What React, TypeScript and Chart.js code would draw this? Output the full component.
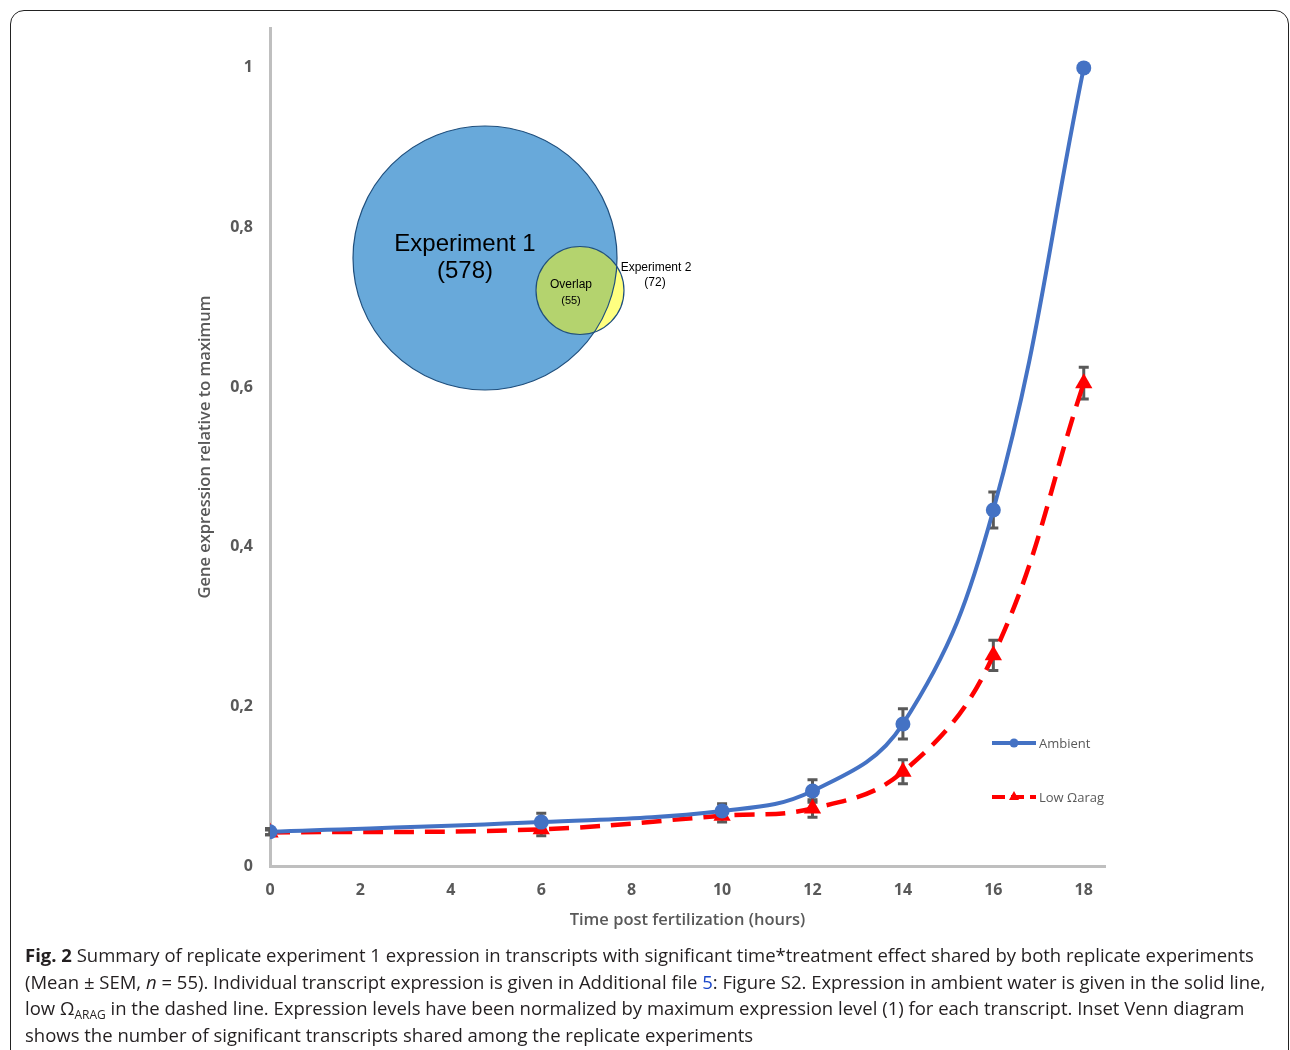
import React, { useEffect, useRef } from "react";
import { Chart, registerables } from "chart.js";

Chart.register(...registerables);

// ---- data ----
const hours = [0, 6, 10, 12, 14, 16, 18];
const ambient = [0.043, 0.055, 0.069, 0.094, 0.178, 0.446, 1.0];
const ambientSem = [0.004, 0.011, 0.009, 0.014, 0.019, 0.0225, 0];
const lowArag = [0.042, 0.046, 0.063, 0.072, 0.118, 0.264, 0.605];
const lowAragSem = [0.003, 0.008, 0.008, 0.011, 0.015, 0.019, 0.02];
const seriesNames = ["Ambient", "Low \u03A9arag"];
const xTicks = [0, 2, 4, 6, 8, 10, 12, 14, 16, 18];
const yTicks = [0, 0.2, 0.4, 0.6, 0.8, 1];
const vennLabels = ["Experiment 1", "Overlap", "Experiment 2"];
const vennCounts = [578, 55, 72];

// ---- layout / style (not data) ----
const X_MAX = 18.47;
const Y_MAX = 1.05;
const vennLayout = {
  big: { x: 4.756, y: 0.7618, r: 2.92 },
  small: { x: 6.857, y: 0.7211, r: 0.973 },
};
const BLUE = "#4472c4";
const RED = "#ff0000";
const GRAY = "#595959";
const AXIS = "#bfbfbf";

const errorBarPlugin = {
  id: "errorBars",
  beforeDatasetsDraw(chart: any) {
    const { ctx, scales } = chart;
    const sems = [ambientSem, lowAragSem];
    const vals = [ambient, lowArag];
    ctx.save();
    ctx.strokeStyle = GRAY;
    ctx.lineWidth = 3;
    for (let d = 0; d < 2; d++) {
      for (let i = 0; i < hours.length; i++) {
        const e = sems[d][i];
        if (!e) continue;
        const px = scales.x.getPixelForValue(hours[i]);
        const top = scales.y.getPixelForValue(vals[d][i] + e);
        const bot = scales.y.getPixelForValue(vals[d][i] - e);
        ctx.beginPath();
        ctx.moveTo(px, top);
        ctx.lineTo(px, bot);
        ctx.moveTo(px - 5, top);
        ctx.lineTo(px + 5, top);
        ctx.moveTo(px - 5, bot);
        ctx.lineTo(px + 5, bot);
        ctx.stroke();
      }
    }
    ctx.restore();
  },
};

const vennPlugin = {
  id: "venn",
  afterDatasetsDraw(chart: any) {
    const { ctx, scales } = chart;
    const sx = scales.x;
    const sy = scales.y;
    const pxPerX = sx.getPixelForValue(1) - sx.getPixelForValue(0);
    const b = vennLayout.big;
    const s = vennLayout.small;
    const bx = sx.getPixelForValue(b.x);
    const by = sy.getPixelForValue(b.y);
    const br = b.r * pxPerX;
    const cx = sx.getPixelForValue(s.x);
    const cy = sy.getPixelForValue(s.y);
    const cr = s.r * pxPerX;
    ctx.save();
    ctx.beginPath();
    ctx.arc(bx, by, br, 0, Math.PI * 2);
    ctx.fillStyle = "#68a9da";
    ctx.fill();
    ctx.beginPath();
    ctx.arc(cx, cy, cr, 0, Math.PI * 2);
    ctx.fillStyle = "#ffff80";
    ctx.fill();
    ctx.save();
    ctx.beginPath();
    ctx.arc(bx, by, br, 0, Math.PI * 2);
    ctx.clip();
    ctx.beginPath();
    ctx.arc(cx, cy, cr, 0, Math.PI * 2);
    ctx.fillStyle = "#b4d36e";
    ctx.fill();
    ctx.restore();
    ctx.strokeStyle = "#1f4f7d";
    ctx.lineWidth = 1.2;
    ctx.beginPath();
    ctx.arc(bx, by, br, 0, Math.PI * 2);
    ctx.stroke();
    ctx.beginPath();
    ctx.arc(cx, cy, cr, 0, Math.PI * 2);
    ctx.stroke();
    ctx.fillStyle = "#000";
    ctx.textAlign = "center";
    ctx.textBaseline = "middle";
    ctx.font = '24px "Liberation Sans", Arial, sans-serif';
    ctx.fillText(vennLabels[0], bx - 20, by - 14);
    ctx.fillText("(" + vennCounts[0] + ")", bx - 20, by + 13);
    ctx.font = '12px "Liberation Sans", Arial, sans-serif';
    ctx.fillText(vennLabels[1], cx - 9, cy - 6);
    ctx.font = '11px "Liberation Sans", Arial, sans-serif';
    ctx.fillText("(" + vennCounts[1] + ")", cx - 9, cy + 10);
    ctx.font = '12px "Liberation Sans", Arial, sans-serif';
    ctx.fillText(vennLabels[2], cx + 76, cy - 23);
    ctx.fillText("(" + vennCounts[2] + ")", cx + 75, cy - 8);
    ctx.restore();
  },
};

const legendPlugin = {
  id: "customLegend",
  afterDraw(chart: any) {
    const { ctx, chartArea } = chart;
    const x0 = chartArea.right - 113;
    const x1 = chartArea.right - 69;
    const mid = (x0 + x1) / 2;
    const rows = [chartArea.bottom - 123, chartArea.bottom - 69];
    ctx.save();
    ctx.strokeStyle = BLUE;
    ctx.lineWidth = 4;
    ctx.beginPath();
    ctx.moveTo(x0, rows[0]);
    ctx.lineTo(x1, rows[0]);
    ctx.stroke();
    ctx.fillStyle = BLUE;
    ctx.beginPath();
    ctx.arc(mid, rows[0], 4.5, 0, Math.PI * 2);
    ctx.fill();
    ctx.strokeStyle = RED;
    ctx.setLineDash([13, 6]);
    ctx.beginPath();
    ctx.moveTo(x0, rows[1]);
    ctx.lineTo(x1, rows[1]);
    ctx.stroke();
    ctx.setLineDash([]);
    ctx.fillStyle = RED;
    ctx.beginPath();
    ctx.moveTo(mid, rows[1] - 6);
    ctx.lineTo(mid + 5, rows[1] + 3);
    ctx.lineTo(mid - 5, rows[1] + 3);
    ctx.closePath();
    ctx.fill();
    ctx.fillStyle = GRAY;
    ctx.font = '13px "Open Sans", sans-serif';
    ctx.textAlign = "left";
    ctx.textBaseline = "middle";
    ctx.fillText(seriesNames[0], x1 + 3, rows[0] + 1);
    ctx.fillText(seriesNames[1], x1 + 3, rows[1] + 1);
    ctx.restore();
  },
};

function ChartBox() {
  const ref = useRef<HTMLCanvasElement>(null);
  useEffect(() => {
    if (!ref.current) return;
    const chart = new Chart(ref.current, {
      type: "line",
      data: {
        datasets: [
          {
            label: seriesNames[0],
            data: hours.map((h, i) => ({ x: h, y: ambient[i] })),
            borderColor: BLUE,
            backgroundColor: BLUE,
            borderWidth: 4,
            pointRadius: 7.5,
            pointStyle: "circle",
            pointBorderWidth: 0,
            tension: 0.4,
          },
          {
            label: seriesNames[1],
            data: hours.map((h, i) => ({ x: h, y: lowArag[i] })),
            borderColor: RED,
            backgroundColor: RED,
            borderWidth: 4.5,
            borderDash: [20, 11],
            pointRadius: 10,
            pointStyle: "triangle",
            pointBorderWidth: 0,
            tension: 0.4,
          },
        ],
      },
      options: {
        responsive: false,
        animation: false,
        devicePixelRatio: 1,
        layout: { padding: { left: 180, right: 185, top: 28, bottom: 0 } },
        plugins: {
          legend: { display: false },
          tooltip: { enabled: false },
        },
        scales: {
          x: {
            type: "linear",
            min: 0,
            max: X_MAX,
            afterFit: (s: any) => {
              s.height = 74;
            },
            afterBuildTicks: (s: any) => {
              s.ticks = xTicks.map((v) => ({ value: v }));
            },
            grid: { display: false, drawTicks: false },
            border: { display: true, color: AXIS, width: 3 },
            ticks: {
              padding: 15,
              color: GRAY,
              font: { family: "Open Sans", size: 16, weight: "bold" },
              callback: (v: any) => String(v),
            },
            title: {
              display: true,
              text: "Time post fertilization (hours)",
              color: GRAY,
              font: { family: "Open Sans", size: 16.5, weight: "600" },
              padding: { top: 0, bottom: 10 },
            },
          },
          y: {
            type: "linear",
            min: 0,
            max: Y_MAX,
            afterFit: (s: any) => {
              s.width = 90;
            },
            afterBuildTicks: (s: any) => {
              s.ticks = yTicks.map((v) => ({ value: v }));
            },
            grid: { display: false, drawTicks: false },
            border: { display: true, color: AXIS, width: 3 },
            ticks: {
              padding: 17,
              color: GRAY,
              font: { family: "Open Sans", size: 16, weight: "bold" },
              callback: (v: any) => String(Math.round(v * 10) / 10).replace(".", ","),
            },
            title: {
              display: true,
              text: "Gene expression relative to maximum",
              color: GRAY,
              font: { family: "Open Sans", size: 16.5, weight: "600" },
              padding: { top: 15, bottom: 0 },
            },
          },
        },
      },
      plugins: [errorBarPlugin, vennPlugin, legendPlugin],
    } as any);
    return () => chart.destroy();
  }, []);
  return (
    <canvas
      ref={ref}
      width={1290}
      height={940}
      style={{ position: "fixed", left: 0, top: 0, width: 1290, height: 940 }}
    />
  );
}

export default function App() {
  return (
    <div>
      <div
        style={{
          position: "fixed",
          left: 10,
          top: 10,
          width: 1290 - 10 - 1,
          height: 1100,
          border: "1.5px solid #222",
          borderRadius: 14,
          boxSizing: "border-box",
        }}
      />
      <ChartBox />
      <div
        style={{
          position: "fixed",
          left: 25,
          top: 942,
          fontFamily: '"Open Sans", sans-serif',
          fontSize: 18.5,
          lineHeight: "26.5px",
          color: "#231f20",
          whiteSpace: "nowrap",
        }}
      >
        <b>Fig. 2</b> Summary of replicate experiment 1 expression in transcripts with significant time*treatment effect shared by both replicate experiments
        <br />
        (Mean ± SEM, <i>n</i> = 55). Individual transcript expression is given in Additional file{" "}
        <span style={{ color: "#1a47c9" }}>5</span>: Figure S2. Expression in ambient water is given in the solid line,
        <br />
        low Ω<span style={{ fontSize: 12, position: "relative", top: 4, lineHeight: 0 }}>ARAG</span> in the dashed line. Expression levels have been normalized by maximum expression level (1) for each transcript. Inset Venn diagram
        <br />
        shows the number of significant transcripts shared among the replicate experiments
      </div>
    </div>
  );
}
